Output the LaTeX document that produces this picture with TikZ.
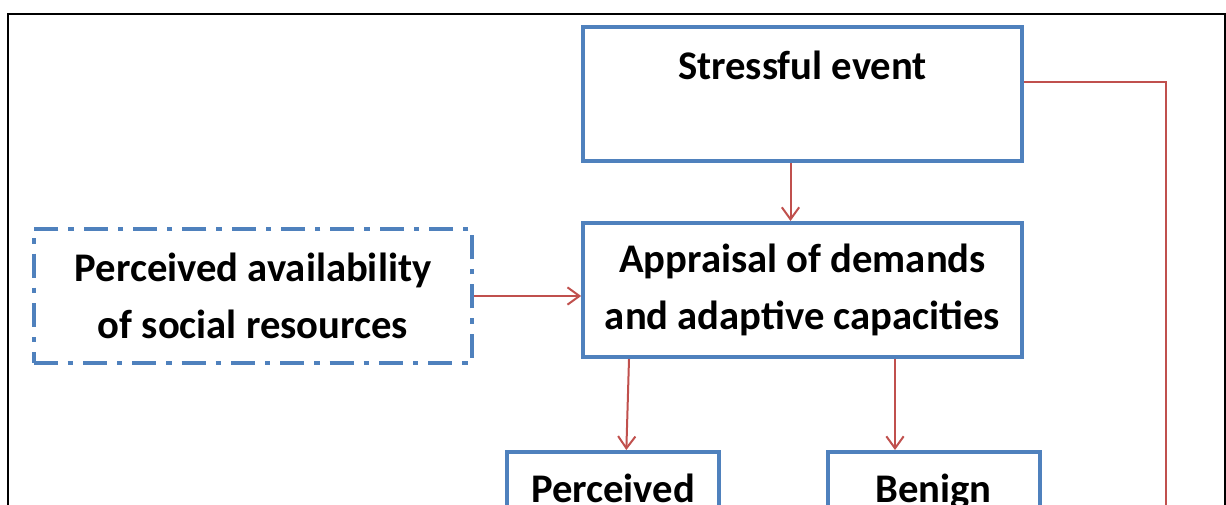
\documentclass[tikz,border=0pt]{standalone}
\usepackage{fontspec}
\setmainfont{Carlito}
\usepackage{xcolor}
\usetikzlibrary{arrows.meta,positioning}
\definecolor{boxblue}{HTML}{4F81BD}
\definecolor{arrred}{HTML}{C0504D}

\begin{document}
\begin{tikzpicture}[x=0.75pt,y=-0.75pt,
  every node/.style={inner sep=0pt,font=\fontsize{30.5}{42.75}\selectfont\bfseries},
  blk/.style={rectangle,draw=boxblue,line width=3pt,align=center,minimum width=329pt,minimum height=100.5pt},
  dotbox/.style={blk,dash pattern=on 18pt off 7.5pt on 4pt off 7.5pt},
  lowbox/.style={rectangle,draw=boxblue,line width=3pt,anchor=north,minimum width=159pt,text height=37.5pt,text depth=80pt},
  arr/.style={draw=arrred,line width=1.5pt,-{Straight Barb[length=9pt,width=13pt]}}]
\useasboundingbox (0,0) rectangle (1226,504);
\clip (0,0) rectangle (1226,504);
\draw[line width=1.5pt] (8,14) rectangle (1225,600);
\node (ev) at (802.5,94) [blk] {Stressful event\\ ~};
\node (appr) at (802.5,290) [blk] {Appraisal of demands\\ and adaptive capacities};
\node (soc) at (253,296) [dotbox] {Perceived availability\\ of social resources};
\node (perc) at (613,450) [lowbox] {Perceived};
\node (ben) at (933.5,450) [lowbox] {Benign};
\coordinate (fb) at (1166,560);
\draw[arr] ([xshift=-9pt]ev.south) -- ([xshift=-9pt]appr.north);
\draw[arr] (soc.east) -- (soc.east -| appr.west);
\draw[arr] (appr.south -| 629,0) -- ([xshift=10pt]perc.north);
\draw[arr] (appr.south -| 895,0) -- (ben.north -| 895,0);
\draw[draw=arrred,line width=1.5pt] ([yshift=9pt]ev.east) -| (fb);
\end{tikzpicture}
\end{document}
